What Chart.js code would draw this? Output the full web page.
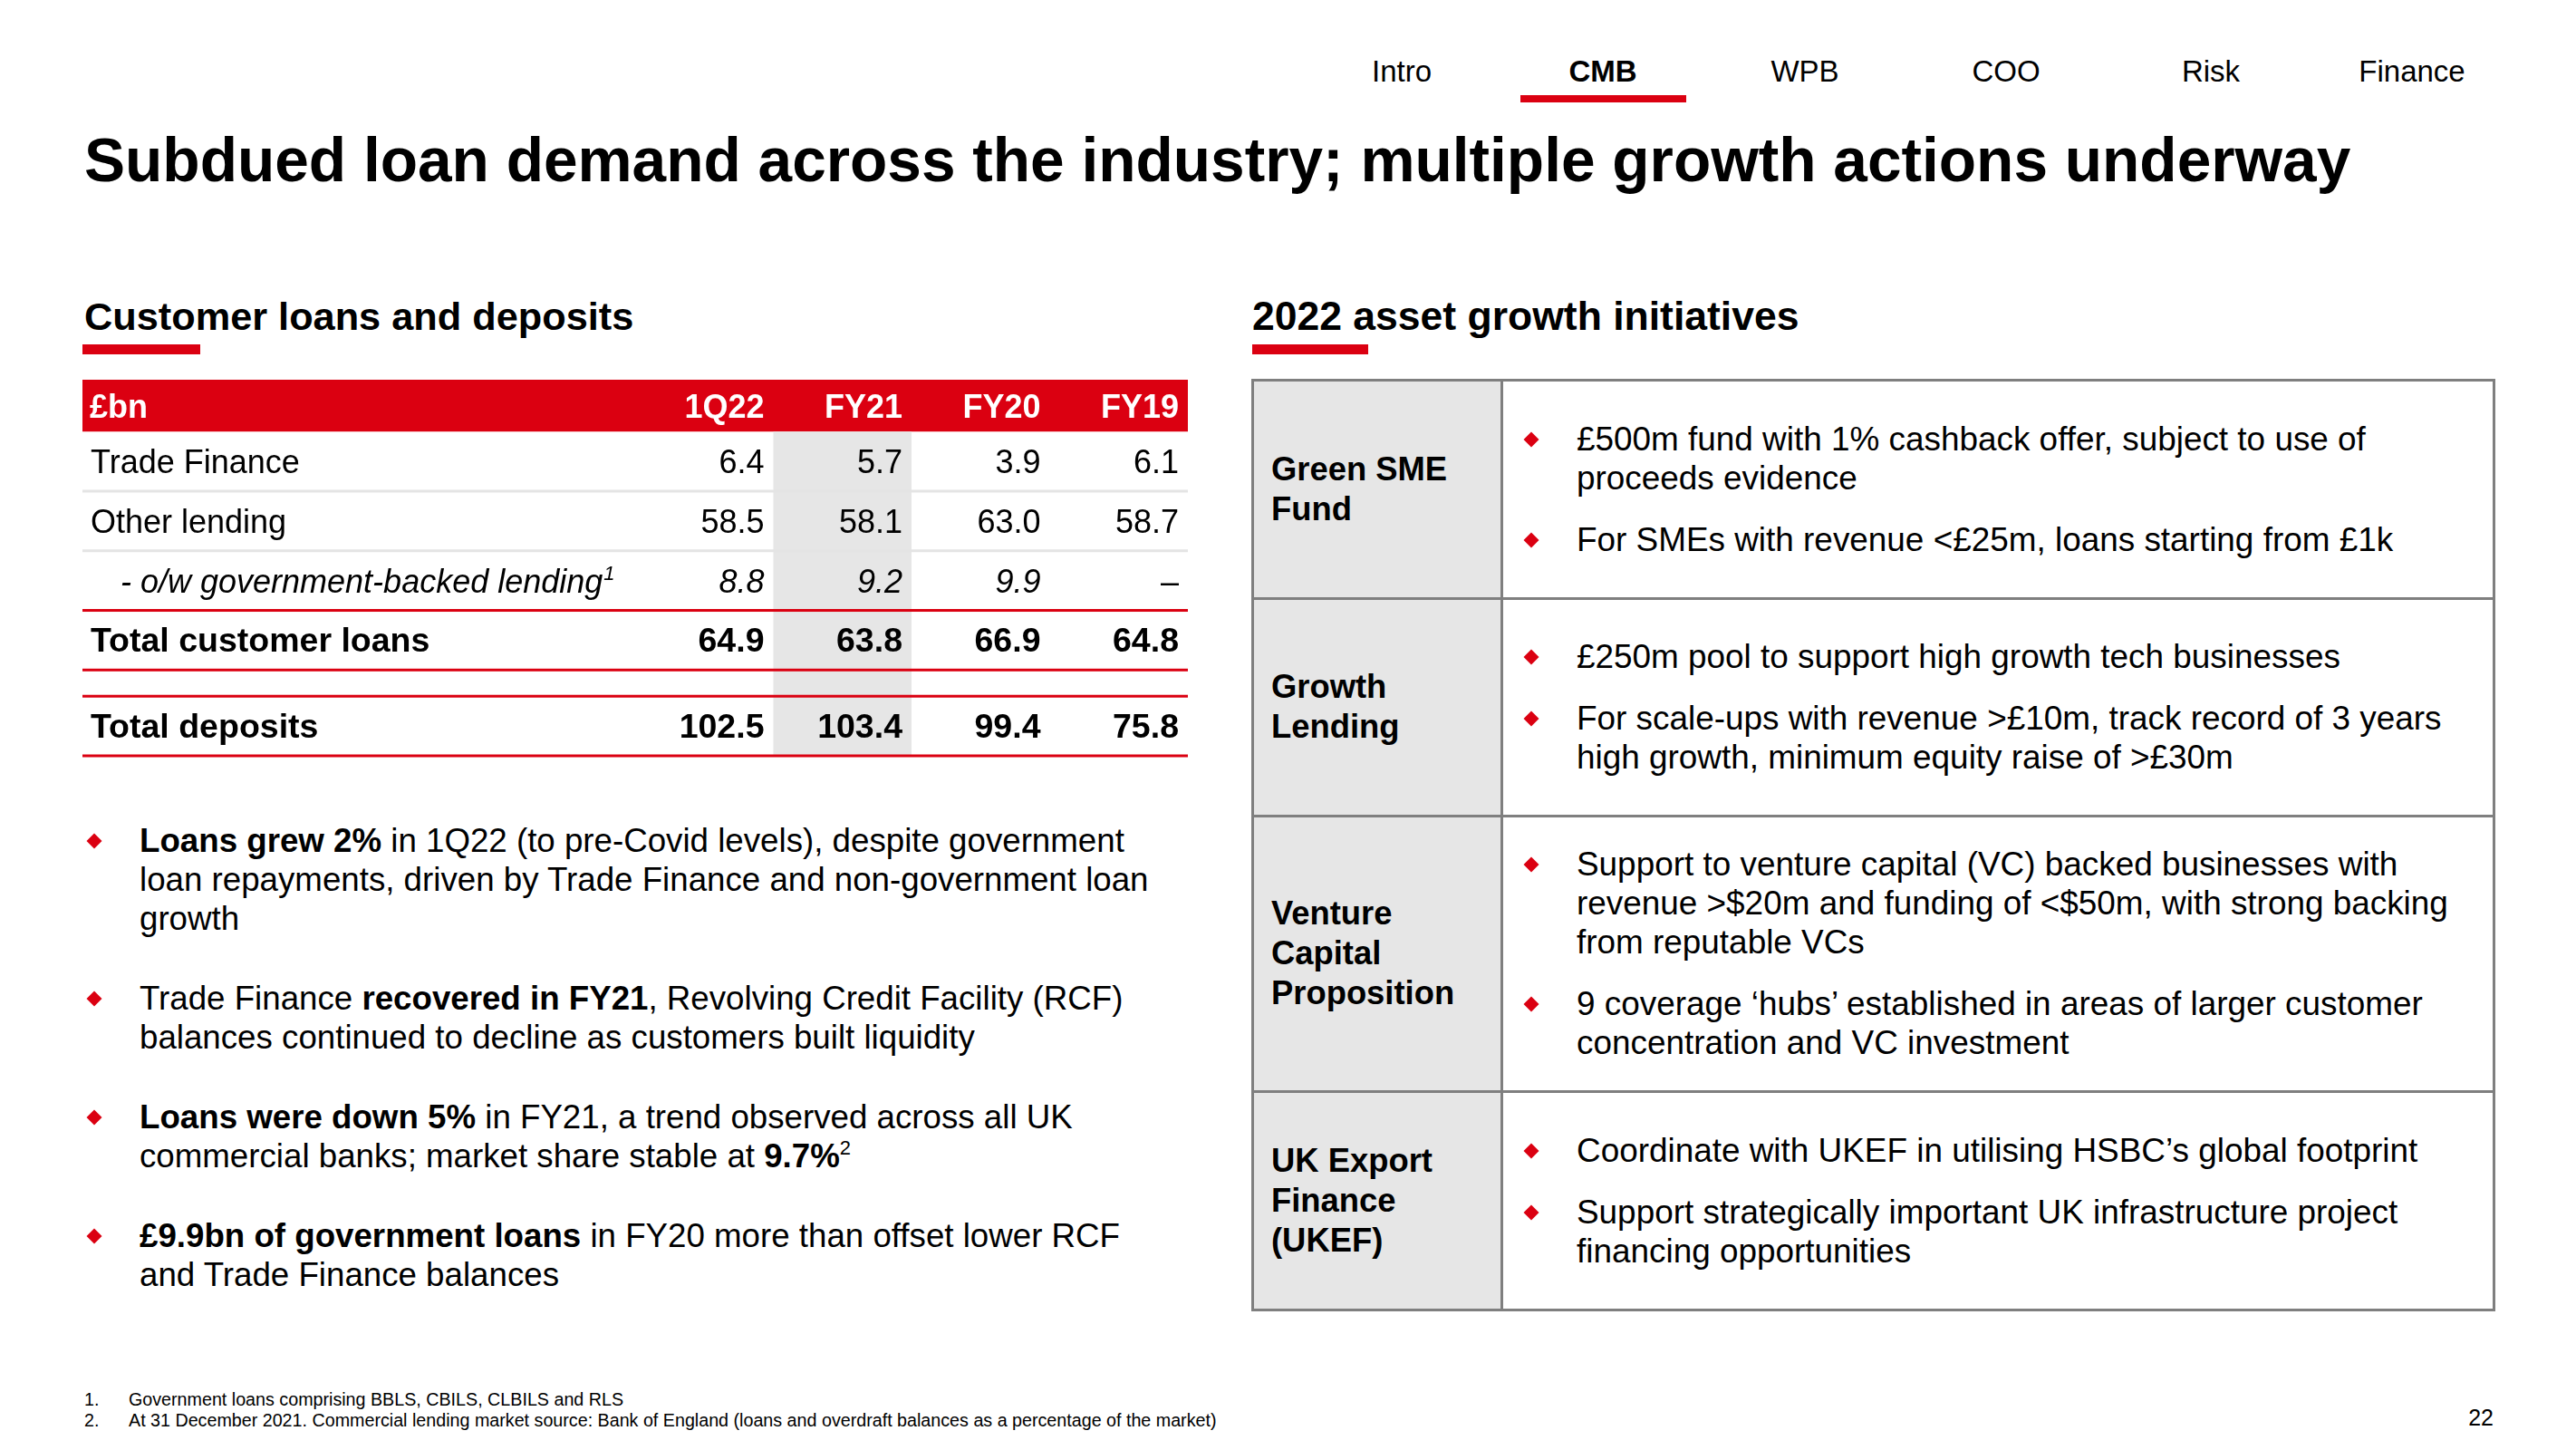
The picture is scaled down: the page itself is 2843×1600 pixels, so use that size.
<!DOCTYPE html>
<html>
<head>
<meta charset="utf-8">
<title>Subdued loan demand across the industry</title>
<script src="https://cdn.jsdelivr.net/npm/chart.js@4.4.1/dist/chart.umd.min.js"></script>
<style>
  body { margin: 0; background: #fff; }
  #slide {
    position: relative; width: 2843px; height: 1600px; overflow: hidden;
    font-family: "Liberation Sans", Arial, sans-serif; color: #000; background: #fff;
  }
  .abs { position: absolute; white-space: nowrap; line-height: 1; }
  .nav { top: 62px; width: 200px; margin-left: -100px; text-align: center; font-size: 33px; }
  .redbar { position: absolute; background: #db0011; }
  .title { left: 93px; top: 143px; font-size: 67.6px; font-weight: bold; }
  .sect { font-weight: bold; }

  .lb { position: absolute; left: 154px; font-size: 36.7px; line-height: 43px; white-space: nowrap; }
  .dia { position: absolute; width: 12px; height: 12px; background: #db0011; transform: rotate(45deg); left: -56px; top: 16px; }
  sup { font-size: 22px; line-height: 0; vertical-align: 14px; }

  .row { position: absolute; left: 1382px; width: 1370px; display: flex; }
  .lab { width: 275px; background: #e6e6e6; display: flex; align-items: center; padding-left: 21px;
         box-sizing: border-box; font-size: 36.4px; font-weight: bold; line-height: 44px; }
  .cnt { flex: 1; display: flex; flex-direction: column; justify-content: center; padding-left: 83px; }
  .cnt p { position: relative; margin: 0; font-size: 36.9px; line-height: 43px; white-space: nowrap; }
  .cnt p + p { margin-top: 25px; }
  .cnt .dia { top: 16px; }
  .rule { position: absolute; background: #7f7f7f; }

  .foot { font-size: 19.7px; line-height: 23px; top: 1533px; }
</style>
</head>
<body>
<div id="slide">
  <!-- navigation -->
  <div class="abs nav" style="left:1547px">Intro</div>
  <div class="abs nav" style="left:1769px;font-weight:bold">CMB</div>
  <div class="abs nav" style="left:1992px">WPB</div>
  <div class="abs nav" style="left:2214px">COO</div>
  <div class="abs nav" style="left:2440px">Risk</div>
  <div class="abs nav" style="left:2662px">Finance</div>
  <div class="redbar" style="left:1678px;top:105px;width:183px;height:8px"></div>

  <div class="abs title">Subdued loan demand across the industry; multiple growth actions underway</div>

  <div class="abs sect" style="left:93px;top:327.5px;font-size:43.3px">Customer loans and deposits</div>
  <div class="redbar" style="left:91px;top:380px;width:130px;height:11px"></div>
  <div class="abs sect" style="left:1382px;top:326.5px;font-size:44.5px">2022 asset growth initiatives</div>
  <div class="redbar" style="left:1382px;top:380px;width:128px;height:11px"></div>

  <!-- left table drawn by Chart.js -->
  <canvas id="loansTable" width="1220" height="419" style="position:absolute;left:91px;top:419px;width:1220px;height:419px"></canvas>

  <!-- left bullets -->
  <div class="lb" style="top:906px"><i class="dia"></i><b>Loans grew 2%</b> in 1Q22 (to pre-Covid levels), despite government<br>loan repayments, driven by Trade Finance and non-government loan<br>growth</div>
  <div class="lb" style="top:1080px"><i class="dia"></i>Trade Finance <b>recovered in FY21</b>, Revolving Credit Facility (RCF)<br>balances continued to decline as customers built liquidity</div>
  <div class="lb" style="top:1211px"><i class="dia"></i><b>Loans were down 5%</b> in FY21, a trend observed across all UK<br>commercial banks; market share stable at <b>9.7%</b><sup>2</sup></div>
  <div class="lb" style="top:1342px"><i class="dia"></i><b>£9.9bn of government loans</b> in FY20 more than offset lower RCF<br>and Trade Finance balances</div>

  <!-- right table -->
  <div class="row" style="top:419px;height:241px">
    <div class="lab">Green SME<br>Fund</div>
    <div class="cnt">
      <p><i class="dia"></i>£500m fund with 1% cashback offer, subject to use of<br>proceeds evidence</p>
      <p><i class="dia"></i>For SMEs with revenue &lt;£25m, loans starting from £1k</p>
    </div>
  </div>
  <div class="row" style="top:660px;height:240px">
    <div class="lab">Growth<br>Lending</div>
    <div class="cnt">
      <p><i class="dia"></i>£250m pool to support high growth tech businesses</p>
      <p><i class="dia"></i>For scale-ups with revenue &gt;£10m, track record of 3 years<br>high growth, minimum equity raise of &gt;£30m</p>
    </div>
  </div>
  <div class="row" style="top:900px;height:304px">
    <div class="lab">Venture<br>Capital<br>Proposition</div>
    <div class="cnt">
      <p><i class="dia"></i>Support to venture capital (VC) backed businesses with<br>revenue &gt;$20m and funding of &lt;$50m, with strong backing<br>from reputable VCs</p>
      <p><i class="dia"></i>9 coverage ‘hubs’ established in areas of larger customer<br>concentration and VC investment</p>
    </div>
  </div>
  <div class="row" style="top:1204px;height:241px">
    <div class="lab">UK Export<br>Finance<br>(UKEF)</div>
    <div class="cnt">
      <p><i class="dia"></i>Coordinate with UKEF in utilising HSBC’s global footprint</p>
      <p><i class="dia"></i>Support strategically important UK infrastructure project<br>financing opportunities</p>
    </div>
  </div>
  <div class="rule" style="left:1380.5px;top:417.5px;width:1373px;height:3px"></div>
  <div class="rule" style="left:1380.5px;top:658.5px;width:1373px;height:3px"></div>
  <div class="rule" style="left:1380.5px;top:898.5px;width:1373px;height:3px"></div>
  <div class="rule" style="left:1380.5px;top:1202.5px;width:1373px;height:3px"></div>
  <div class="rule" style="left:1380.5px;top:1443.5px;width:1373px;height:3px"></div>
  <div class="rule" style="left:1380.5px;top:417.5px;width:3px;height:1029px"></div>
  <div class="rule" style="left:1655.5px;top:417.5px;width:3px;height:1029px"></div>
  <div class="rule" style="left:2750.5px;top:417.5px;width:3px;height:1029px"></div>

  <!-- footnotes -->
  <div class="abs foot" style="left:93px">1.<br>2.</div>
  <div class="abs foot" style="left:142px">Government loans comprising BBLS, CBILS, CLBILS and RLS<br>At 31 December 2021. Commercial lending market source: Bank of England (loans and overdraft balances as a percentage of the market)</div>
  <div class="abs" style="right:91px;top:1552px;font-size:25px">22</div>
</div>

<script>
// Customer loans and deposits, £bn
const unitLabel = '£bn';
const periods = ['1Q22', 'FY21', 'FY20', 'FY19'];
const rowLabels = ['Trade Finance', 'Other lending', '- o/w government-backed lending', 'Total customer loans', 'Total deposits'];
const tradeFinance = [6.4, 5.7, 3.9, 6.1];
const otherLending = [58.5, 58.1, 63.0, 58.7];
const govBacked = [8.8, 9.2, 9.9, null];
const totalLoans = [64.9, 63.8, 66.9, 64.8];
const totalDeposits = [102.5, 103.4, 99.4, 75.8];

const rowValues = [tradeFinance, otherLending, govBacked, totalLoans, totalDeposits];

// layout in scale units: label column is 4 units wide, each period 1 unit; body rows 1 unit tall
const RED = '#db0011';
const HEADER_H = 0.87;
const GAP_H = 0.44;
const rowTop = [0, 1, 2, 3, 4 + GAP_H].map(v => v + HEADER_H);
const rowStyle = ['normal', 'normal', 'italic', 'bold', 'bold'];
const rowRule = ['#e4e4e4', '#e4e4e4', RED, RED, RED];
const highlightCol = 1; // FY21
const FONT = '"Liberation Sans", Arial, sans-serif';

function rowFont(st) {
    if (st === 'bold') return 'bold 37.5px ' + FONT;
    if (st === 'italic') return 'italic 36px ' + FONT;
    return '36px ' + FONT;
}

const tablePlugin = {
    id: 'loansTable',
    beforeDatasetsDraw(chart) {
        const { ctx, scales: { x, y } } = chart;
        const px = v => x.getPixelForValue(v);
        const py = v => y.getPixelForValue(v);
        const colStart = i => 4 + i;
        const yEnd = rowTop[rowTop.length - 1] + 1;

        ctx.save();
        // header band
        ctx.fillStyle = RED;
        ctx.fillRect(px(0), py(0), px(4 + periods.length) - px(0), py(HEADER_H) - py(0));

        // highlighted period column
        ctx.fillStyle = '#e6e6e6';
        ctx.fillRect(px(colStart(highlightCol)), py(HEADER_H),
            px(colStart(highlightCol) + 1) - px(colStart(highlightCol)), py(yEnd) - py(HEADER_H));

        // rules
        const rule = (v, color) => {
            ctx.fillStyle = color;
            ctx.fillRect(px(0), py(v) - 1.5, px(4 + periods.length) - px(0), 3);
        };
        rowRule.forEach((c, i) => rule(rowTop[i] + 1, c));
        rule(rowTop[rowTop.length - 1], RED);

        // header text
        const hMid = (py(0) + py(HEADER_H)) / 2;
        ctx.fillStyle = '#fff';
        ctx.font = 'bold 36px ' + FONT;
        ctx.textBaseline = 'alphabetic';
        ctx.textAlign = 'left';
        ctx.fillText(unitLabel, px(0) + 8, hMid + 13);
        ctx.textAlign = 'right';
        periods.forEach((p, i) => ctx.fillText(p, px(colStart(i) + 1) - 10, hMid + 13));

        // body
        ctx.fillStyle = '#000';
        rowLabels.forEach((label, r) => {
            const mid = (py(rowTop[r]) + py(rowTop[r] + 1)) / 2;
            const base = mid + 13;
            const st = rowStyle[r];
            ctx.font = rowFont(st);
            ctx.textAlign = 'left';
            const lx = px(0) + (st === 'italic' ? 42 : 9);
            ctx.fillText(label, lx, base);
            if (st === 'italic') {
                const w = ctx.measureText(label).width;
                ctx.font = 'italic 22px ' + FONT;
                ctx.fillText('1', lx + w + 1, base - 14);
                ctx.font = rowFont(st);
            }
            ctx.textAlign = 'right';
            rowValues[r].forEach((v, i) => {
                const xr = px(colStart(i) + 1) - 10;
                if (v === null) {
                    ctx.font = '36px ' + FONT;
                    ctx.fillText('–', xr, base);
                    ctx.font = rowFont(st);
                } else {
                    ctx.fillText(v.toFixed(1), xr, base);
                }
            });
        });
        ctx.restore();
    }
};

new Chart(document.getElementById('loansTable'), {
    type: 'scatter',
    data: { datasets: [{ data: [], pointRadius: 0 }] },
    options: {
        responsive: false,
        animation: false,
        events: [],
        layout: { padding: { top: 0, left: 0, right: 0, bottom: 4 } },
        plugins: { legend: { display: false }, tooltip: { enabled: false } },
        scales: {
            x: { type: 'linear', min: 0, max: 4 + periods.length, display: false },
            y: { type: 'linear', min: 0, max: rowTop[rowTop.length - 1] + 1, reverse: true, display: false }
        }
    },
    plugins: [tablePlugin]
});
</script>
</body>
</html>
